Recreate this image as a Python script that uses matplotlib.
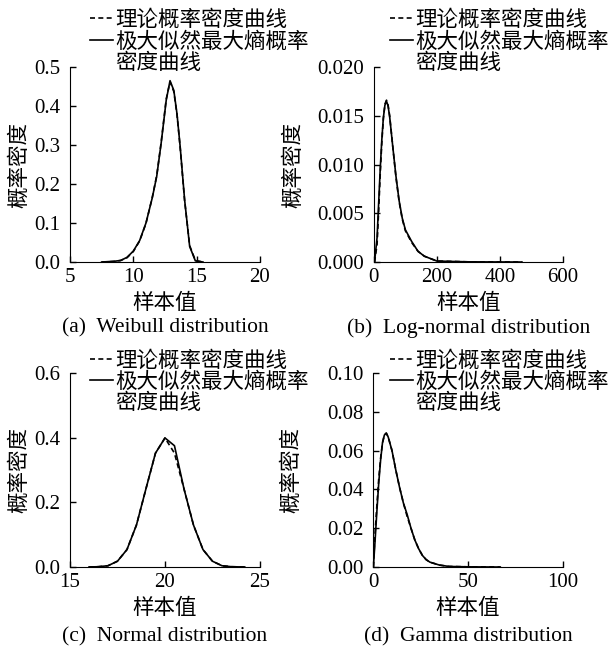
import numpy as np
import matplotlib
matplotlib.use('Agg')
import matplotlib.pyplot as plt

plt.rcParams['font.family'] = ['Liberation Serif', 'Noto Sans CJK SC']
plt.rcParams['axes.unicode_minus'] = False

# (a) Weibull
wb_x = [7.5, 8.0, 8.5, 9.0, 9.5, 10.0, 10.5, 11.0, 11.5, 11.85, 12.2, 12.6, 12.9, 13.2, 13.45, 13.7, 14.05, 14.45, 14.9, 15.5]
wb_me = [0.0, 0.001, 0.002, 0.004, 0.012, 0.028, 0.055, 0.100, 0.165, 0.220, 0.305, 0.415, 0.465, 0.440, 0.380, 0.296, 0.160, 0.040, 0.003, 0.0]
wb_th = [0.0, 0.0005, 0.0015, 0.004, 0.011, 0.027, 0.054, 0.099, 0.166, 0.222, 0.307, 0.418, 0.462, 0.437, 0.378, 0.294, 0.158, 0.042, 0.004, 0.0]

# (b) Log-normal
ln_x = [2, 10, 15, 20, 25, 30, 35, 40, 45, 50, 60, 70, 80, 90, 100, 120, 140, 160, 200, 300, 470]
ln_me = [0.0, 0.0025, 0.006, 0.0095, 0.0125, 0.0148, 0.0161, 0.0165, 0.0160, 0.0149, 0.0118, 0.0088, 0.0063, 0.0045, 0.0033, 0.0021, 0.0011, 0.0006, 0.0001, 0.00002, 0.0]
ln_th = [0.0, 0.0018, 0.0052, 0.0090, 0.0122, 0.0147, 0.0162, 0.0166, 0.0161, 0.0150, 0.0118, 0.0087, 0.0062, 0.0044, 0.0032, 0.0020, 0.0011, 0.0006, 0.0001, 0.00002, 0.0]

# (c) Normal
nm_x = [16.0, 16.5, 17.0, 17.5, 18.0, 18.5, 19.0, 19.5, 20.0, 20.5, 21.0, 21.5, 22.0, 22.5, 23.0, 23.5, 24.2]
nm_me = [0.0, 0.001, 0.004, 0.018, 0.054, 0.130, 0.242, 0.352, 0.399, 0.375, 0.242, 0.130, 0.054, 0.018, 0.004, 0.001, 0.0]
nm_th = [0.0, 0.001, 0.004, 0.018, 0.054, 0.130, 0.242, 0.352, 0.399, 0.352, 0.242, 0.130, 0.054, 0.018, 0.004, 0.001, 0.0]

# (d) Gamma
gm_x = [0.2, 1, 2, 3, 4, 5, 6, 7, 8, 10, 12, 14, 16, 18, 20, 22, 24, 26, 28, 30, 35, 40, 50, 67]
gm_me = [0.0, 0.012, 0.028, 0.043, 0.055, 0.064, 0.068, 0.069, 0.067, 0.060, 0.050, 0.041, 0.033, 0.027, 0.020, 0.014, 0.0095, 0.006, 0.0038, 0.0025, 0.001, 0.0003, 0.0001, 0.0]
gm_th = [0.0, 0.016, 0.031, 0.045, 0.056, 0.064, 0.068, 0.069, 0.067, 0.060, 0.050, 0.041, 0.033, 0.026, 0.020, 0.014, 0.0095, 0.006, 0.0038, 0.0025, 0.001, 0.0003, 0.0001, 0.0]

panels = [
    (wb_x, wb_th, wb_me, (5, 20), [5, 10, 15, 20], (0, 0.5), [0, 0.1, 0.2, 0.3, 0.4, 0.5], '%.1f', '(a)  Weibull distribution'),
    (ln_x, ln_th, ln_me, (0, 600), [0, 200, 400, 600], (0, 0.02), [0, 0.005, 0.010, 0.015, 0.020], '%.3f', '(b)  Log-normal distribution'),
    (nm_x, nm_th, nm_me, (15, 25), [15, 20, 25], (0, 0.6), [0, 0.2, 0.4, 0.6], '%.1f', '(c)  Normal distribution'),
    (gm_x, gm_th, gm_me, (0, 100), [0, 50, 100], (0, 0.1), [0, 0.02, 0.04, 0.06, 0.08, 0.10], '%.2f', '(d)  Gamma distribution'),
]

# axes rectangles [left, bottom, width, height]
rects = [
    [0.1136, 0.595, 0.3084, 0.3014],
    [0.607, 0.595, 0.3068, 0.3014],
    [0.1136, 0.1236, 0.3084, 0.300],
    [0.6055, 0.1236, 0.3084, 0.300],
]
ylab_x = [-0.21, -0.37, -0.21, -0.37]
leg_anchor = [(0.105, 1.29), (0.085, 1.29), (0.105, 1.113), (0.09, 1.113)]
cap_y = [-0.34, -0.34, -0.361, -0.361]

fig = plt.figure(figsize=(6.16, 6.47), dpi=100)

for i, (x, th, me, xl, xt, yl, yt, fmt, cap) in enumerate(panels):
    ax = fig.add_axes(rects[i])
    ax.plot(x, th, color='black', lw=1.2, ls=(0, (3, 2)), label='理论概率密度曲线')
    ax.plot(x, me, color='black', lw=1.2, label='极大似然最大熵概率')
    ax.plot([], [], lw=0, label='密度曲线')  # second line of the legend label
    ax.set_xlim(*xl)
    ax.set_ylim(*yl)
    ax.set_xticks(xt)
    ax.set_yticks(yt)
    ax.set_yticklabels([fmt % v for v in yt])
    ax.spines['top'].set_visible(False)
    ax.spines['right'].set_visible(False)
    ax.tick_params(direction='in', length=4, width=1, labelsize=15)
    ax.tick_params(axis='x', pad=4)
    ax.tick_params(axis='y', pad=7)
    ax.set_xlabel('样本值', fontsize=15.5, labelpad=5)
    ax.set_ylabel('概率密度', fontsize=15.5)
    ax.yaxis.set_label_coords(ylab_x[i], 0.5)
    ax.text(0.5, cap_y[i], cap, transform=ax.transAxes, ha='center', va='center', fontsize=15.5)
    ax.legend(loc='upper left', bbox_to_anchor=leg_anchor[i], frameon=False, fontsize=15.5,
              handlelength=1.07, handletextpad=0.1, borderpad=0, borderaxespad=0,
              labelspacing=0.05)

fig.savefig('out.png', dpi=100)
